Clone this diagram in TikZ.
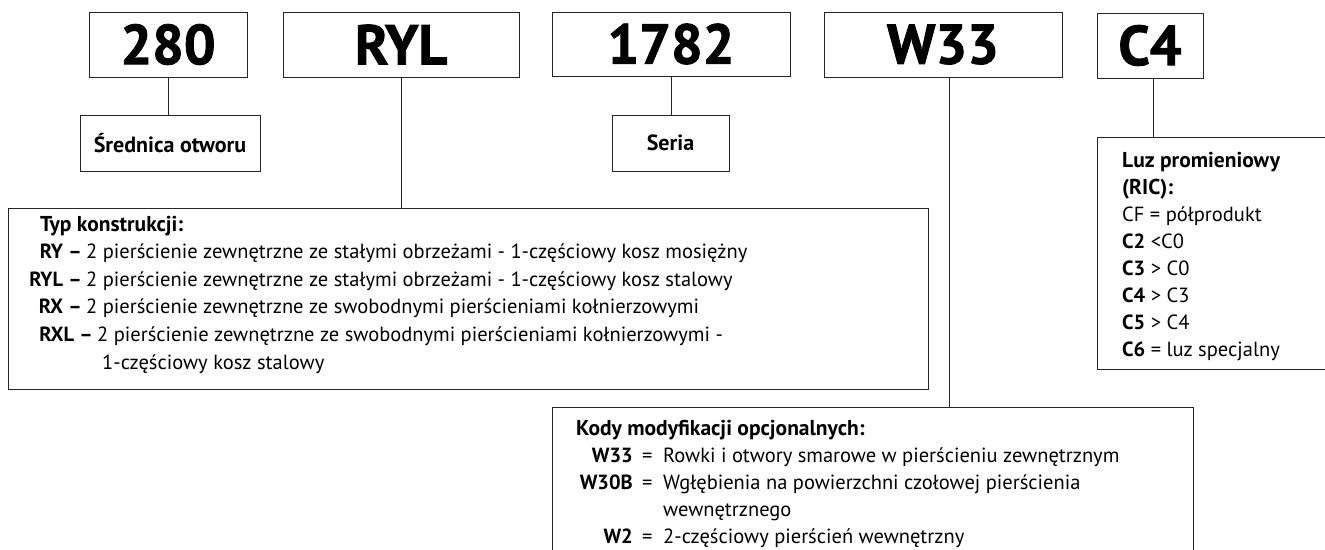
\documentclass[tikz,border=0pt]{standalone}
\usepackage{fontspec}
\setmainfont{PT Sans}
\newfontfamily\heavyfont{PT Sans}[BoldFeatures={FakeBold=1.6}]
\begin{document}
\begin{tikzpicture}[x=1pt,y=-1pt,
  box/.style={draw=black!85, line width=1pt, inner sep=0pt},
  big/.style={font=\fontsize{56}{56}\heavyfont\bfseries},
  lbl/.style={font=\fontsize{22}{24}\selectfont\bfseries},
  txt/.style={font=\fontsize{20.5}{24}\selectfont, inner sep=0pt},
  head/.style={font=\fontsize{21.5}{24}\selectfont\bfseries, inner sep=0pt},
  conn/.style={draw=black!85, line width=0.9pt}]
\useasboundingbox (0,0) rectangle (1325,549);
% top code boxes
\node[box, big, minimum width=158pt, minimum height=65pt] (n280) at (168,44.5) {280};
\node[box, big, minimum width=236pt, minimum height=65pt] (ryl) at (401,44.5) {RYL};
\node[box, big, minimum width=238pt, minimum height=64pt] (n1782) at (671,44) {1782};
\node[box, big, minimum width=238pt, minimum height=65pt] (w33) at (943,44.5) {W33};
\node[box, big, minimum width=106pt, minimum height=65pt] (c4) at (1150,45.5) {C4};
% small label boxes
\node[box, lbl, minimum width=180pt, minimum height=56pt] (sred) at (170,143) {Średnica otworu};
\node[box, lbl, minimum width=117pt, minimum height=56pt] (seria) at (670.5,143) {Seria};
% large boxes
\node[box, minimum width=920pt, minimum height=181pt] (typ) at (468,298.5) {};
\node[box, minimum width=243pt, minimum height=232pt] (luz) at (1218.5,253) {};
\node[box, minimum width=641pt, minimum height=163pt] (mods) at (872.5,488.5) {};
% connectors
\draw[conn] (n280.south) -- (n280.south |- sred.north);
\draw[conn] (ryl.south) -- (ryl.south |- typ.north);
\draw[conn] (n1782.south) -- (n1782.south |- seria.north);
\draw[conn] ([xshift=6pt]w33.south) -- ([xshift=6pt]w33.south |- mods.north);
\draw[conn] ([xshift=3pt]c4.south) -- ([xshift=3pt]c4.south |- luz.north);
% Typ konstrukcji
\node[head, anchor=base west] (typt) at (40,231) {Typ konstrukcji:};
\node[txt, anchor=base east] (ry) at (82,258.6) {\textbf{RY –}};
\node[txt, anchor=base west] (ryd) at (86,258.6) {2 pierścienie zewnętrzne ze stałymi obrzeżami - 1-częściowy kosz mosiężny};
\node[txt, anchor=base east] (ryl2) at (82,286.2) {\textbf{RYL –}};
\node[txt, anchor=base west] (ryld) at (86,286.2) {2 pierścienie zewnętrzne ze stałymi obrzeżami - 1-częściowy kosz stalowy};
\node[txt, anchor=base east] (rx) at (82,313.8) {\textbf{RX –}};
\node[txt, anchor=base west] (rxd) at (86,313.8) {2 pierścienie zewnętrzne ze swobodnymi pierścieniami kołnierzowymi};
\node[txt, anchor=base east] (rxl) at (93,341.4) {\textbf{RXL –}};
\node[txt, anchor=base west] (rxld) at (97,341.4) {2 pierścienie zewnętrzne ze swobodnymi pierścieniami kołnierzowymi -};
\node[txt, anchor=base west] (rxld2) at (102,369) {1-częściowy kosz stalowy};
% Luz promieniowy
\node[head, anchor=base west] (luz1) at (1122,167) {Luz promieniowy};
\node[head, anchor=base west] (luz2) at (1122,194) {(RIC):};
\node[txt, anchor=base west] (luz3) at (1122,221) {CF = półprodukt};
\node[txt, anchor=base west] (luz4) at (1122,248) {\textbf{C2} <C0};
\node[txt, anchor=base west] (luz5) at (1122,275) {\textbf{C3} > C0};
\node[txt, anchor=base west] (luz6) at (1122,302) {\textbf{C4} > C3};
\node[txt, anchor=base west] (luz7) at (1122,329) {\textbf{C5} > C4};
\node[txt, anchor=base west] (luz8) at (1122,356) {\textbf{C6} = luz specjalny};
% Kody modyfikacji
\node[head, anchor=base west] (kody) at (576,435) {Kody modyfikacji opcjonalnych:};
\node[txt, anchor=base east] (k1) at (633,462) {\textbf{W33}};
\node[txt, anchor=base west] (k1e) at (642,462) {=};
\node[txt, anchor=base west] (k1d) at (663,462) {Rowki i otwory smarowe w pierścieniu zewnętrznym};
\node[txt, anchor=base east] (k2) at (633,489) {\textbf{W30B}};
\node[txt, anchor=base west] (k2e) at (642,489) {=};
\node[txt, anchor=base west] (k2d) at (663,489) {Wgłębienia na powierzchni czołowej pierścienia};
\node[txt, anchor=base west] (k2d2) at (663,516) {wewnętrznego};
\node[txt, anchor=base east] (k3) at (633,543) {\textbf{W2}};
\node[txt, anchor=base west] (k3e) at (642,543) {=};
\node[txt, anchor=base west] (k3d) at (663,543) {2-częściowy pierścień wewnętrzny};
\end{tikzpicture}
\end{document}
